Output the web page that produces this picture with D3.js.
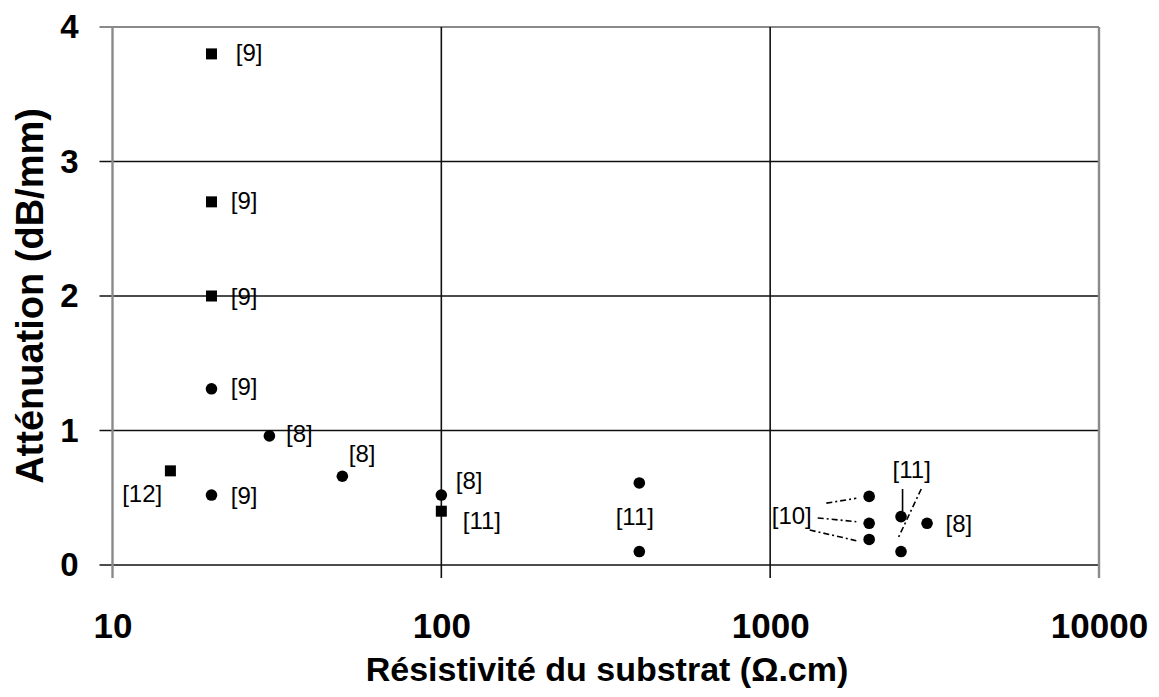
<!DOCTYPE html>
<html lang="fr">
<head>
<meta charset="utf-8">
<title>Atténuation vs résistivité</title>
<script src="https://d3js.org/d3.v7.min.js"></script>
<style>
  body { margin: 0; background: #fff; }
  text { font-family: "Liberation Sans", Arial, sans-serif; fill: #000; }
</style>
</head>
<body>
<script>
var w = 1159;
var h = 697;

// tick values
var xTicks = [10, 100, 1000, 10000];
var yTicks = [0, 1, 2, 3, 4];

// square markers: resistivity, attenuation
var squareX = [20, 20, 20, 15, 100];
var squareY = [3.8, 2.7, 2.0, 0.7, 0.4];

// round markers
var circleX = [20, 20, 30, 50, 100, 400, 400, 2000, 2000, 2000, 2500, 2500, 3000];
var circleY = [1.31, 0.52, 0.96, 0.66, 0.52, 0.61, 0.10, 0.51, 0.31, 0.19, 0.36, 0.10, 0.31];

// reference labels (left-middle anchor, data units)
var labelText = ["[9]", "[9]", "[9]", "[9]", "[9]", "[8]", "[8]", "[8]", "[11]", "[12]", "[11]", "[10]", "[11]", "[8]"];
var labelX = [23.7, 22.9, 22.9, 22.9, 22.9, 33.7, 52.3, 110.7, 116.2, 10.7, 339, 1011, 2357, 3415];
var labelY = [3.81, 2.71, 2.0, 1.33, 0.52, 0.98, 0.83, 0.63, 0.33, 0.53, 0.36, 0.37, 0.71, 0.31];

// leader lines: x1, y1, x2, y2 (data units), dashed or not
var leaderX1 = [1482, 1395, 1319, 2527, 2880];
var leaderY1 = [0.46, 0.35, 0.26, 0.565, 0.565];
var leaderX2 = [1828, 1828, 1828, 2527, 2450];
var leaderY2 = [0.496, 0.322, 0.181, 0.40, 0.20];
var leaderDashed = [true, true, true, false, true];

var svg = d3.select("body").append("svg")
  .attr("width", w)
  .attr("height", h);

var x = d3.scaleLog().domain([10, 10000]).range([112.5, 1099]);
var y = d3.scaleLinear().domain([0, 4]).range([565, 27]);

// horizontal grid lines
svg.selectAll("line.hgrid")
  .data(yTicks)
  .enter()
  .append("line")
  .attr("class", "hgrid")
  .attr("x1", x(10) - 13)
  .attr("x2", x(10000))
  .attr("y1", d => y(d))
  .attr("y2", d => y(d))
  .attr("stroke", d => d == 4 ? "#8a8a8a" : "#111")
  .attr("stroke-width", d => d == 4 ? 2.2 : 1.6);

// vertical grid lines
svg.selectAll("line.vgrid")
  .data(xTicks)
  .enter()
  .append("line")
  .attr("class", "vgrid")
  .attr("x1", d => x(d))
  .attr("x2", d => x(d))
  .attr("y1", y(4))
  .attr("y2", y(0) + 13)
  .attr("stroke", d => (d == 10 || d == 10000) ? "#8a8a8a" : "#111")
  .attr("stroke-width", d => (d == 10 || d == 10000) ? 2.4 : 1.6);

// axes (labels only, lines drawn above)
var xAxis = d3.axisBottom(x)
  .tickValues(xTicks)
  .tickFormat(d3.format("d"))
  .tickSize(0)
  .tickPadding(48);

var yAxis = d3.axisLeft(y)
  .tickValues(yTicks)
  .tickFormat(d3.format("d"))
  .tickSize(0)
  .tickPadding(34);

var gx = svg.append("g")
  .attr("transform", "translate(0," + y(0) + ")")
  .call(xAxis);
gx.select(".domain").remove();
gx.selectAll("text")
  .style("font-size", "35px")
  .style("font-weight", "bold")
  .style("font-family", "'Liberation Sans', Arial, sans-serif");

var gy = svg.append("g")
  .attr("transform", "translate(" + x(10) + ",0)")
  .call(yAxis);
gy.select(".domain").remove();
gy.selectAll("text")
  .style("font-size", "33px")
  .style("font-weight", "bold")
  .style("font-family", "'Liberation Sans', Arial, sans-serif");

// axis titles
svg.append("text")
  .attr("x", 607)
  .attr("y", 681)
  .attr("text-anchor", "middle")
  .style("font-size", "34px")
  .style("font-weight", "bold")
  .text("Résistivité du substrat (Ω.cm)");

svg.append("text")
  .attr("transform", "translate(43,296) rotate(-90)")
  .attr("text-anchor", "middle")
  .style("font-size", "38px")
  .style("font-weight", "bold")
  .text("Atténuation (dB/mm)");

// leader lines
svg.selectAll("line.leader")
  .data(leaderX1)
  .enter()
  .append("line")
  .attr("class", "leader")
  .attr("x1", (d, i) => x(leaderX1[i]))
  .attr("y1", (d, i) => y(leaderY1[i]))
  .attr("x2", (d, i) => x(leaderX2[i]))
  .attr("y2", (d, i) => y(leaderY2[i]))
  .attr("stroke", "#000")
  .attr("stroke-width", 1.6)
  .attr("stroke-dasharray", (d, i) => leaderDashed[i] ? "6,3,2,3" : null);

// square markers
var sq = 11;
svg.selectAll("rect.sq")
  .data(squareX)
  .enter()
  .append("rect")
  .attr("class", "sq")
  .attr("x", (d, i) => x(squareX[i]) - sq / 2)
  .attr("y", (d, i) => y(squareY[i]) - sq / 2)
  .attr("width", sq)
  .attr("height", sq)
  .attr("fill", "#000");

// round markers
svg.selectAll("circle.pt")
  .data(circleX)
  .enter()
  .append("circle")
  .attr("class", "pt")
  .attr("cx", (d, i) => x(circleX[i]))
  .attr("cy", (d, i) => y(circleY[i]))
  .attr("r", 5.8)
  .attr("fill", "#000");

// reference labels
svg.selectAll("text.ref")
  .data(labelText)
  .enter()
  .append("text")
  .attr("class", "ref")
  .attr("x", (d, i) => x(labelX[i]))
  .attr("y", (d, i) => y(labelY[i]))
  .attr("dy", "0.36em")
  .style("font-size", "24px")
  .text(d => d);
</script>
</body>
</html>
